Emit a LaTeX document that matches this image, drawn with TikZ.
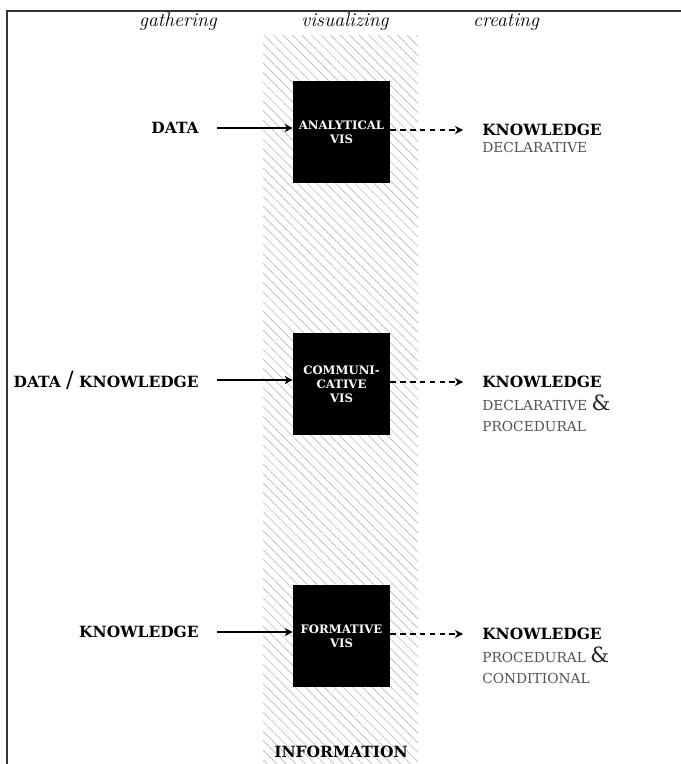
\documentclass[tikz,border=0pt]{standalone}
\usepackage{fontspec}
\newfontfamily\capsfont{DejaVu Serif}
\usetikzlibrary{arrows.meta, positioning, patterns.meta}

\tikzset{
  visbox/.style={fill=black, text=white, minimum width=2.425cm, minimum height=2.55cm,
    align=center, inner sep=0pt, font=\capsfont\bfseries\fontsize{8.3}{10}\selectfont},
  inlabel/.style={anchor=east, inner sep=0pt, font=\capsfont\bfseries\fontsize{11}{13}\selectfont},
  outlabel/.style={anchor=west, inner sep=0pt, font=\capsfont\bfseries\fontsize{11}{13}\selectfont},
  sublabel/.style={inner sep=0pt, align=left, text=black!68,
    font=\capsfont\fontsize{9.8}{15}\selectfont},
  stage/.style={font=\itshape\fontsize{14}{16}\selectfont},
  feed/.style={-{Stealth[length=2mm, width=2mm, inset=0.6mm]}, line width=0.8pt, shorten <=12.8pt},
  yield/.style={-{Stealth[length=2mm, width=2mm, inset=0.6mm]}, line width=0.8pt,
    dash pattern=on 4pt off 3pt, shorten >=13.5pt},
}

\begin{document}
\begin{tikzpicture}[x=0.025cm, y=-0.025cm]
\useasboundingbox (0,0) rectangle (681,764);

% frame
\draw[black!80, line width=1pt] (681,11) -- (7,11) -- (7,764);

% hatched information column
\fill[pattern={Lines[angle=-45, distance=4.8pt, line width=0.45pt]}, pattern color=black!28]
  (263,35) rectangle (418,764);
\node[font=\capsfont\bfseries\fontsize{11}{13}\selectfont] (info) at (341,752) {INFORMATION};

% stages
\node[stage] (gathering) at (178,22) {gathering};
\node[stage] (visualizing) at (345,22) {visualizing};
\node[stage] (creating) at (506,22) {creating};

% vis boxes
\node[visbox] (analytical) at (341.5,132) {ANALYTICAL\\VIS};
\node[visbox] (communicative) at (341.5,384) {COMMUNI-\\CATIVE\\VIS};
\node[visbox] (formative) at (341.5,636) {FORMATIVE\\VIS};

% inputs
\node[inlabel] (data) at (199,128) {DATA};
\node[inlabel] (dataknow) at (199,380) {DATA {\mdseries\fontsize{16}{16}\selectfont/} KNOWLEDGE};
\node[inlabel] (know) at (199,632) {KNOWLEDGE};

% outputs
\node[outlabel] (knowA) at (482,130) {KNOWLEDGE};
\node[sublabel, below=4.5pt of knowA.south west, anchor=north west] (kindA) {DECLARATIVE};
\node[outlabel] (knowC) at (482,382) {KNOWLEDGE};
\node[sublabel, below=4.5pt of knowC.south west, anchor=north west] (kindC)
  {DECLARATIVE {\color{black!85}\fontsize{15}{15}\selectfont\&}\\PROCEDURAL};
\node[outlabel] (knowF) at (482,634) {KNOWLEDGE};
\node[sublabel, below=4.5pt of knowF.south west, anchor=north west] (kindF)
  {PROCEDURAL {\color{black!85}\fontsize{15}{15}\selectfont\&}\\CONDITIONAL};

% arrows
\draw[feed] (data.east) -- (data.east -| analytical.west);
\draw[feed] (dataknow.east) -- (dataknow.east -| communicative.west);
\draw[feed] (know.east) -- (know.east -| formative.west);
\draw[yield] (knowA.west -| analytical.east) -- (knowA.west);
\draw[yield] (knowC.west -| communicative.east) -- (knowC.west);
\draw[yield] (knowF.west -| formative.east) -- (knowF.west);

\end{tikzpicture}
\end{document}
